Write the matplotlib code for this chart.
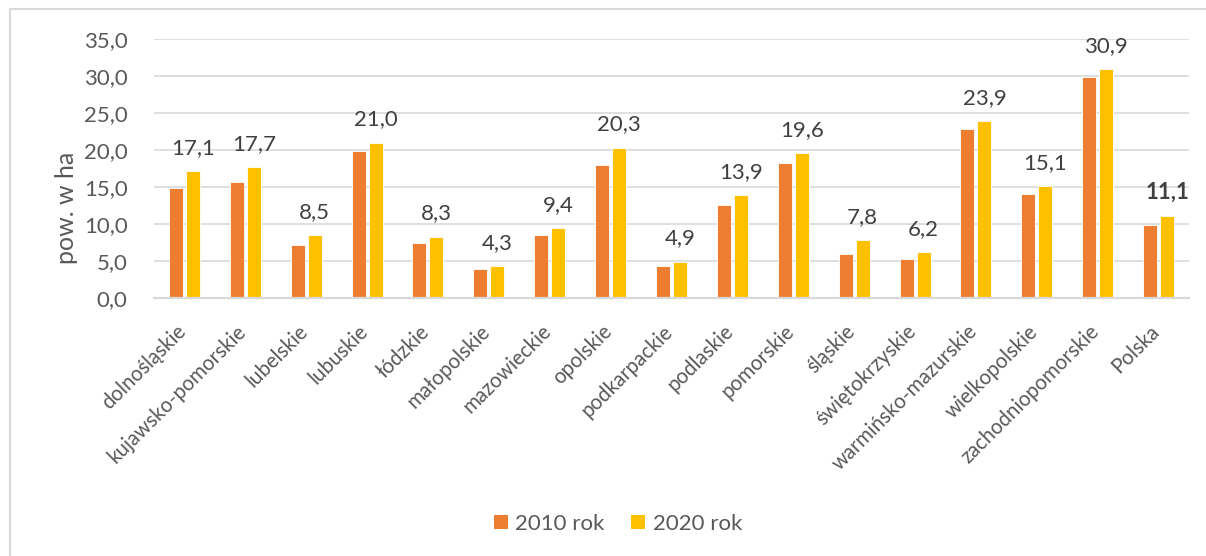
import matplotlib
matplotlib.use("Agg")
import matplotlib.pyplot as plt
from matplotlib.lines import Line2D
from matplotlib.patches import Patch
from matplotlib.transforms import ScaledTranslation
import numpy as np

plt.rcParams['font.family'] = ['Lato', 'DejaVu Sans']

regions = ["dolnośląskie", "kujawsko-pomorskie", "lubelskie", "lubuskie", "łódzkie",
           "małopolskie", "mazowieckie", "opolskie", "podkarpackie", "podlaskie",
           "pomorskie", "śląskie", "świętokrzyskie", "warmińsko-mazurskie",
           "wielkopolskie", "zachodniopomorskie", "Polska"]
values_2010 = [14.8, 15.7, 7.2, 19.8, 7.5, 3.9, 8.5, 18.0, 4.3, 12.6,
               18.2, 6.0, 5.3, 22.9, 14.0, 29.8, 9.8]
values_2020 = [17.1, 17.7, 8.5, 21.0, 8.3, 4.3, 9.4, 20.3, 4.9, 13.9,
               19.6, 7.8, 6.2, 23.9, 15.1, 30.9, 11.1]
series_names = ["2010 rok", "2020 rok"]
y_ticks = [0, 5, 10, 15, 20, 25, 30, 35]

C2010 = "#ED7D31"
C2020 = "#FFC000"
TXT = "#595959"
GRID = "#D9D9D9"

W, H = 1206, 556
fig = plt.figure(figsize=(W / 100, H / 100), dpi=100)
ax = fig.add_axes([154 / W, 1 - 298 / H, (1189 - 154) / W, (298 - 39) / H])

x = np.arange(len(regions))
bw = 0.23
off = 0.14
ax.bar(x - off, values_2010, width=bw, color=C2010, edgecolor="white", linewidth=0.6, zorder=3)
ax.bar(x + off, values_2020, width=bw, color=C2020, edgecolor="white", linewidth=0.6, zorder=3)

# value labels above the 2020 bars
for i, v in enumerate(values_2020):
    ax.annotate(f"{v:.1f}".replace(".", ","), (x[i] + off, v), xytext=(0, 12.5),
                textcoords="offset points", ha="center", va="baseline",
                fontsize=16, color="#404040",
                fontweight="bold" if regions[i] == "Polska" else "normal")

ax.set_xlim(-0.5, len(regions) - 0.5)
ax.set_ylim(0, 35)
ax.set_yticks(y_ticks)
ax.set_yticklabels([f"{t:.1f}".replace(".", ",") for t in y_ticks], fontsize=16, color=TXT)
ax.tick_params(axis="y", length=0, pad=19)
ax.tick_params(axis="x", length=0, pad=6)
ax.set_xticks(x)
ax.set_xticklabels(regions, rotation=45, ha="right", va="top", rotation_mode="anchor",
                   fontsize=14.8, color=TXT)
shift = ScaledTranslation(-9 / 100, -15 / 100, fig.dpi_scale_trans)
for lab in ax.get_xticklabels():
    lab.set_transform(lab.get_transform() + shift)

ax.grid(axis="y", color=GRID, linewidth=1.2, zorder=0)
for s in ["top", "right", "left"]:
    ax.spines[s].set_visible(False)
ax.spines["bottom"].set_color(GRID)
ax.spines["bottom"].set_linewidth(1.6)
ax.spines["bottom"].set_zorder(4)

fig.text(67 / W, 1 - 208 / H, "pow. w ha", rotation=90, ha="center", va="center",
         fontsize=18, color=TXT)

handles = [Patch(facecolor=C2010), Patch(facecolor=C2020)]
fig.legend(handles, series_names, loc="center", bbox_to_anchor=(618 / W, 1 - 524 / H),
           ncol=2, frameon=False, fontsize=16, handlelength=0.63, handleheight=0.63,
           handletextpad=0.35, columnspacing=1.2, labelcolor=TXT)

# outer chart frame (left and top edges)
fig.add_artist(Line2D([10 / W, 10 / W], [0, 1 - 9 / H], transform=fig.transFigure,
                      color=GRID, linewidth=1.5))
fig.add_artist(Line2D([10 / W, 1], [1 - 9 / H, 1 - 9 / H], transform=fig.transFigure,
                      color=GRID, linewidth=1.5))

fig.savefig("out.png", dpi=100)
